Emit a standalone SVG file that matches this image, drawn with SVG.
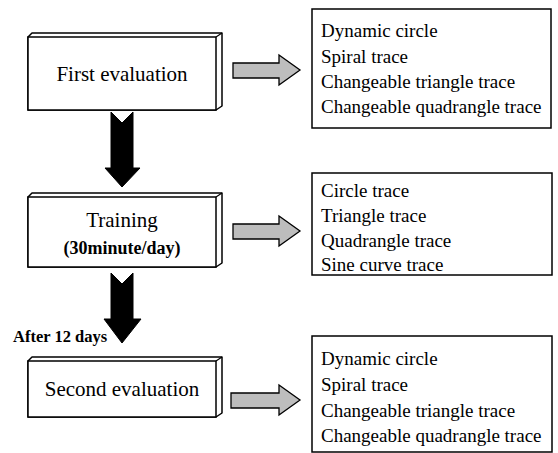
<svg xmlns="http://www.w3.org/2000/svg" width="558" height="453" viewBox="0 0 558 453">
<style>
.box{fill:#fff;stroke:#000;stroke-width:1.5}
.slab{fill:#fff;stroke:#000;stroke-width:1.5;stroke-linejoin:round}
.t{font-family:"Liberation Serif","Times New Roman",serif;fill:#000}
.big{font-size:21px}
.list{font-size:19px}
.b{font-weight:bold}
.down{fill:#000;stroke:#000;stroke-width:1}
.side{fill:#bdbdbd;stroke:#000;stroke-width:1.3;stroke-linejoin:miter}
</style>
<rect width="558" height="453" fill="#fff"/>

<g id="connectors">
  <polygon class="down" points="111,112 122,123 133,112 133,168 140,168 122,187 105,168 111,168"/>
  <polygon class="down" points="111,273 122,284 133,273 133,319 141,319 122,343 104,319 111,319"/>
  <polygon class="side" points="233,63 279,63 279,55 300,70 279,85 279,78 233,78"/>
  <polygon class="side" points="233,224 279,224 279,216 300,231 279,246 279,239 233,239"/>
  <polygon class="side" points="231,393 279,393 279,385 300,400 279,415 279,408 231,408"/>
</g>

<g id="first-evaluation">
  <path class="slab" d="M28,37 L32,33 L222,33 L222,106 L216,110 L28,110 Z"/>
  <line x1="216" y1="37" x2="222" y2="33" stroke="#000" stroke-width="1.2"/>
  <rect class="box" x="28" y="37" width="188" height="73"/>
  <text class="t big" x="122" y="81" text-anchor="middle">First evaluation</text>
</g>

<g id="training">
  <path class="slab" d="M28,197 L32,193 L222,193 L222,263 L216,267 L28,267 Z"/>
  <line x1="216" y1="197" x2="222" y2="193" stroke="#000" stroke-width="1.2"/>
  <rect class="box" x="28" y="197" width="188" height="70"/>
  <text class="t big" x="122" y="227" text-anchor="middle">Training</text>
  <text class="t b" x="122" y="254" text-anchor="middle" font-size="18">(30minute/day)</text>
</g>

<g id="after-label">
  <text class="t b" x="13" y="342" font-size="16.5">After 12 days</text>
</g>

<g id="second-evaluation">
  <path class="slab" d="M28,361 L32,357 L222,357 L222,413 L216,417 L28,417 Z"/>
  <line x1="216" y1="361" x2="222" y2="357" stroke="#000" stroke-width="1.2"/>
  <rect class="box" x="28" y="361" width="188" height="56"/>
  <text class="t big" x="122" y="396" text-anchor="middle">Second evaluation</text>
</g>

<g id="list-first">
  <rect class="box" x="312" y="9" width="239" height="119"/>
  <text class="t list" x="321" y="37">Dynamic circle</text>
  <text class="t list" x="321" y="63">Spiral trace</text>
  <text class="t list" x="321" y="88">Changeable triangle trace</text>
  <text class="t list" x="321" y="113">Changeable quadrangle trace</text>
</g>

<g id="list-training">
  <rect class="box" x="312" y="173" width="240" height="102"/>
  <text class="t list" x="321" y="197">Circle trace</text>
  <text class="t list" x="321" y="222">Triangle trace</text>
  <text class="t list" x="321" y="247">Quadrangle trace</text>
  <text class="t list" x="321" y="271">Sine curve trace</text>
</g>

<g id="list-second">
  <rect class="box" x="312" y="336" width="240" height="116"/>
  <text class="t list" x="321" y="365">Dynamic circle</text>
  <text class="t list" x="321" y="391">Spiral trace</text>
  <text class="t list" x="321" y="417">Changeable triangle trace</text>
  <text class="t list" x="321" y="442">Changeable quadrangle trace</text>
</g>
</svg>
